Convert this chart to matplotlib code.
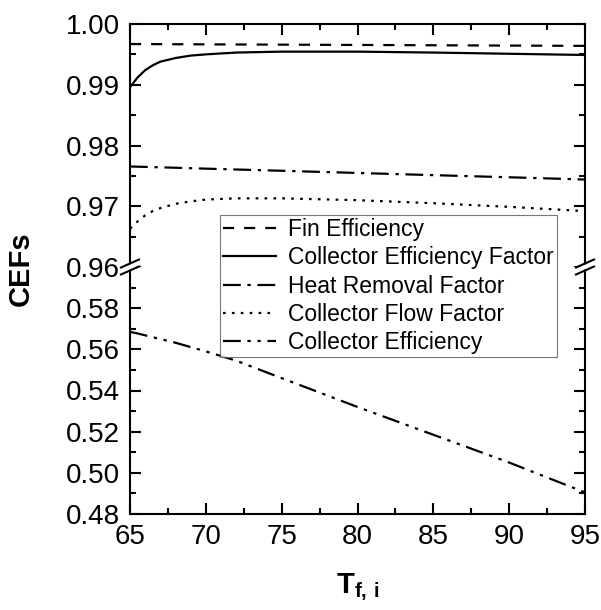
import matplotlib
matplotlib.use('Agg')

import matplotlib.pyplot as plt
from matplotlib.ticker import MultipleLocator, FixedLocator
from matplotlib.patches import Polygon

plt.rcParams['font.family'] = ['Liberation Sans', 'DejaVu Sans']
plt.rcParams['mathtext.fontset'] = 'custom'
plt.rcParams['mathtext.rm'] = 'Liberation Sans'
plt.rcParams['mathtext.bf'] = 'Liberation Sans:bold'

# inlet fluid temperature
t_in = [65, 65.5, 66, 66.5, 67, 68, 69, 70, 72, 75, 80, 85, 90, 95]

fin_eff = [0.99670, 0.99670, 0.99669, 0.99669, 0.99668, 0.99667, 0.99666,
           0.99665, 0.99663, 0.99660, 0.99655, 0.99650, 0.99645, 0.99640]
coll_eff_factor = [0.9896, 0.9912, 0.9924, 0.9932, 0.9938, 0.9944, 0.9948,
                   0.9950, 0.9953, 0.99545, 0.99545, 0.9953, 0.9951, 0.9949]
heat_removal = [0.97655, 0.97651, 0.97648, 0.97644, 0.97641, 0.97634, 0.97626,
                0.97619, 0.97605, 0.97584, 0.97548, 0.97512, 0.97477, 0.97440]
flow_factor = [0.9663, 0.9675, 0.9685, 0.9692, 0.9697, 0.9704, 0.9708,
               0.9711, 0.9713, 0.9713, 0.9710, 0.9705, 0.9699, 0.9692]
coll_eff = [0.5685, 0.5677, 0.5668, 0.5659, 0.5650, 0.5632, 0.5611,
            0.5590, 0.5545, 0.5460, 0.5320, 0.5185, 0.5050, 0.4905]

labels = ["Fin Efficiency", "Collector Efficiency Factor", "Heat Removal Factor",
          "Collector Flow Factor", "Collector Efficiency"]

W, H = 601, 610
fig = plt.figure(figsize=(W / 100, H / 100), dpi=100)

left, right = 130 / W, 585 / W
top, mid, bottom = 1 - 24 / H, 1 - 267 / H, 1 - 514 / H

ax_top = fig.add_axes([left, mid, right - left, top - mid])
ax_bot = fig.add_axes([left, bottom, right - left, mid - bottom])

lw = 1.6
styles = {
    "fin": (0, (5, 4.5)),
    "cef": "-",
    "hrf": (0, (8, 3, 1.5, 3)),
    "cff": (0, (1.2, 2.8)),
    "ce": (0, (8, 3, 1.5, 3, 1.5, 3)),
}

h1, = ax_top.plot(t_in, fin_eff, color='black', lw=lw, ls=styles["fin"])
h2, = ax_top.plot(t_in, coll_eff_factor, color='black', lw=lw, ls=styles["cef"])
h3, = ax_top.plot(t_in, heat_removal, color='black', lw=lw, ls=styles["hrf"])
h4, = ax_top.plot(t_in, flow_factor, color='black', lw=lw, ls=styles["cff"])
h5, = ax_bot.plot(t_in, coll_eff, color='black', lw=lw, ls=styles["ce"])

ax_top.set_ylim(0.96, 1.00)
ax_bot.set_ylim(0.48, 0.60)
for ax in (ax_top, ax_bot):
    ax.set_xlim(65, 95)
    ax.xaxis.set_major_locator(MultipleLocator(5))
    ax.xaxis.set_minor_locator(MultipleLocator(2.5))
    for s in ax.spines.values():
        s.set_linewidth(1.5)
    ax.tick_params(which='major', direction='in', length=8, width=1.5,
                   labelsize=20, pad=7)
    ax.tick_params(which='minor', direction='in', length=4.5, width=1.5)

ax_top.yaxis.set_major_locator(MultipleLocator(0.01))
ax_top.yaxis.set_minor_locator(MultipleLocator(0.005))
ax_top.yaxis.set_major_formatter(matplotlib.ticker.FormatStrFormatter('%.2f'))
ax_top.spines['bottom'].set_visible(False)
ax_top.tick_params(which='both', top=True, bottom=False, labelbottom=False,
                   left=True, right=True)

ax_bot.yaxis.set_major_locator(FixedLocator([0.48, 0.50, 0.52, 0.54, 0.56, 0.58]))
ax_bot.yaxis.set_minor_locator(FixedLocator([0.49, 0.51, 0.53, 0.55, 0.57, 0.59]))
ax_bot.yaxis.set_major_formatter(matplotlib.ticker.FormatStrFormatter('%.2f'))
ax_bot.spines['top'].set_visible(False)
ax_bot.tick_params(which='both', top=False, bottom=True, left=True, right=True)

# axis break marks on both spines
for xp in (130, 585):
    pts = [(xp - 8, 267 + 6), (xp + 8, 267 - 1), (xp + 8, 267 - 6), (xp - 8, 267 + 1)]
    gap = Polygon([(x / W, 1 - y / H) for x, y in pts], closed=True,
                  transform=fig.transFigure, facecolor='white', edgecolor='none',
                  zorder=10)
    fig.add_artist(gap)
    for dy in (3.5, -3.5):
        fig.add_artist(plt.Line2D([(xp - 9) / W, (xp + 9) / W],
                                  [1 - (267 + dy + 4) / H, 1 - (267 + dy - 4) / H],
                                  transform=fig.transFigure, color='black',
                                  lw=1.5, zorder=11))

fig.text(21 / W, (top + bottom) / 2, "CEFs", rotation=90, fontsize=21,
         fontweight='bold', ha='center', va='center')
fig.text((left + right) / 2, 1 - 587 / H, r'$\mathbf{T}_{\mathbf{f,}\,\mathbf{i}}$',
         fontsize=21, ha='center', va='center')

leg = fig.legend([h1, h2, h3, h4, h5], labels, loc='upper left',
                 bbox_to_anchor=(220 / W, 1 - 215 / H), borderaxespad=0,
                 fontsize=16.5, frameon=True, fancybox=False, handlelength=2.3,
                 handletextpad=0.5, labelspacing=0.22, borderpad=0.15)
leg.get_frame().set_edgecolor('#555555')
leg.get_frame().set_linewidth(0.8)
leg.set_zorder(20)

fig.savefig("out.png", dpi=100)
